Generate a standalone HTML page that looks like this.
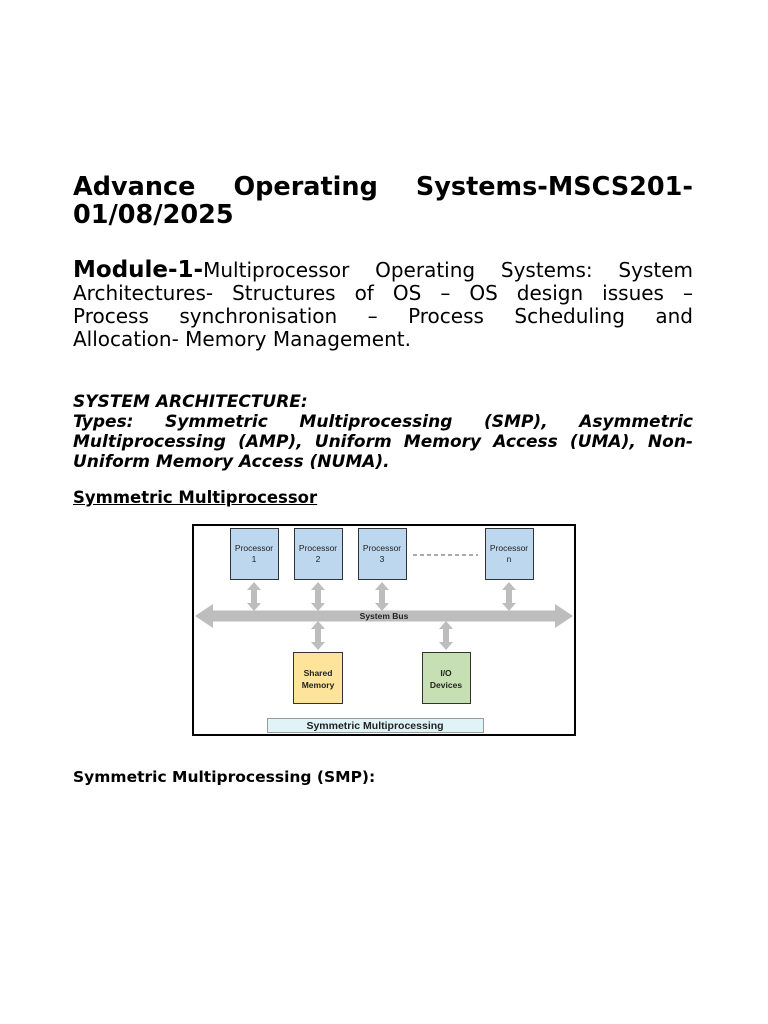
<!DOCTYPE html>
<html><head><meta charset="utf-8"><style>
html,body{margin:0;padding:0;background:#fff;width:768px;height:1024px;overflow:hidden}
body{font-family:"DejaVu Sans","Liberation Sans",sans-serif;color:#000;position:relative}
.j{text-align:justify;text-align-last:justify;white-space:nowrap}
.l{position:absolute;left:73px;width:620px}
</style></head><body>
<div class="l" style="top:173px;font-size:25.5px;font-weight:bold;line-height:28px">
<div class="j">Advance Operating Systems-MSCS201-</div>
<div>01/08/2025</div>
</div>
<div class="l" style="top:259px;font-size:20px;line-height:23px">
<div class="j"><span style="font-size:23px;font-weight:bold">Module-1-</span>Multiprocessor Operating Systems: System</div>
<div class="j">Architectures- Structures of OS – OS design issues –</div>
<div class="j">Process synchronisation – Process Scheduling and</div>
<div>Allocation- Memory Management.</div>
</div>
<div class="l" style="top:392px;font-size:17px;line-height:20px;font-weight:bold;font-style:italic">
<div>SYSTEM ARCHITECTURE:</div>
<div class="j">Types: Symmetric Multiprocessing (SMP), Asymmetric</div>
<div class="j">Multiprocessing (AMP), Uniform Memory Access (UMA), Non-</div>
<div>Uniform Memory Access (NUMA).</div>
</div>
<div class="l" style="top:488px;font-size:16.5px;font-weight:bold;text-decoration:underline">Symmetric Multiprocessor</div>
<div class="l" style="top:768px;font-size:15.5px;font-weight:bold">Symmetric Multiprocessing (SMP):</div>
<svg style="position:absolute;left:0;top:0" width="768" height="1024" font-family="Liberation Sans, sans-serif">
<defs><polygon id="v" points="0,0 -7,8 -3,8 -3,21 -7,21 0,29 7,21 3,21 3,8 7,8"/></defs>
<rect x="193" y="525" width="382" height="210" fill="#fff" stroke="#000" stroke-width="2"/>
<g fill="#bdbdbd">
<polygon points="195,616 213,604 213,610.5 555,610.5 555,604 573,616 555,628 555,621.5 213,621.5 213,628"/>
<use href="#v" x="254" y="582"/><use href="#v" x="318" y="582"/><use href="#v" x="382" y="582"/><use href="#v" x="509" y="582"/>
<use href="#v" x="318" y="621"/><use href="#v" x="446" y="621"/>
</g>
<g stroke="#333" stroke-width="1" fill="#bdd7ee">
<rect x="230.5" y="528.5" width="48" height="51"/>
<rect x="294.5" y="528.5" width="48" height="51"/>
<rect x="358.5" y="528.5" width="48" height="51"/>
<rect x="485.5" y="528.5" width="48" height="51"/>
<rect x="293.5" y="652.5" width="49" height="51" fill="#fde49a"/>
<rect x="422.5" y="652.5" width="48" height="51" fill="#c6e0b4"/>
<rect x="267.5" y="718.5" width="216" height="14" fill="#e0f4f8" stroke="#999"/>
</g>
<line x1="413" y1="555" x2="478" y2="555" stroke="#555" stroke-dasharray="4,3"/>
<g font-size="8.5" text-anchor="middle" fill="#222">
<text x="254" y="551">Processor</text><text x="254" y="562">1</text>
<text x="318" y="551">Processor</text><text x="318" y="562">2</text>
<text x="382" y="551">Processor</text><text x="382" y="562">3</text>
<text x="509" y="551">Processor</text><text x="509" y="562">n</text>
<text x="384" y="619" font-weight="bold">System Bus</text>
<text x="318" y="676" font-weight="bold">Shared</text><text x="318" y="688" font-weight="bold">Memory</text>
<text x="446" y="676" font-weight="bold">I/O</text><text x="446" y="688" font-weight="bold">Devices</text>
<text x="375" y="729" font-size="10.5" font-weight="bold">Symmetric Multiprocessing</text>
</g>
</svg>
</body></html>
